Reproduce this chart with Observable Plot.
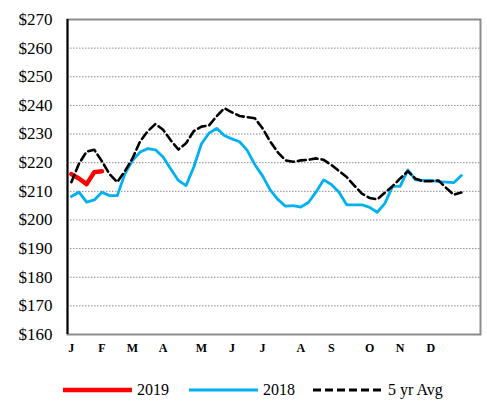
<!DOCTYPE html>
<html><head><meta charset="utf-8">
<script src="https://cdn.jsdelivr.net/npm/d3@7"></script>
<script src="https://cdn.jsdelivr.net/npm/@observablehq/plot@0.6"></script>
<style>
body{margin:0;background:#fff;font-family:"Liberation Serif","Times New Roman",serif}
#wrap{position:relative;width:487px;height:403px}
#chart svg, #chart svg text{font-family:"Liberation Serif","Times New Roman",serif !important}
#legend{position:absolute;left:0;top:378px;width:487px;height:24px}
.item{position:absolute;top:0;height:24px;display:flex;align-items:center;font-size:16px;color:#000;font-family:"Liberation Serif","Times New Roman",serif}
</style>
</head><body><div id="wrap"><div id="chart"></div><div id="legend"></div></div>
<script>
// Weekly values (week 1..52)
const y2019 = [216.0, 214.5, 212.5, 216.7, 217.0];
const y2018 = [208.2, 209.7, 206.2, 207.0, 209.7, 208.5, 208.5, 216.0, 220.8, 223.7,
  224.9, 224.5, 222.0, 217.8, 213.8, 212.0, 218.4, 226.5, 230.3, 232.0,
  229.5, 228.3, 227.3, 224.3, 219.3, 215.4, 210.5, 207.2, 204.8, 205.0,
  204.5, 206.1, 209.8, 214.0, 212.4, 209.7, 205.3, 205.3, 205.3, 204.4,
  202.7, 205.8, 211.7, 211.7, 217.5, 214.0, 213.8, 213.8, 213.4, 213.2,
  213.0, 215.5];
const yAvg = [213.2, 219.6, 223.9, 224.5, 220.5, 216.0, 213.2, 217.0, 221.5, 227.5,
  231.0, 233.5, 231.5, 227.8, 224.6, 226.8, 231.0, 232.6, 233.0, 236.2,
  239.0, 237.6, 236.3, 235.9, 235.5, 232.0, 227.4, 223.6, 220.8, 220.3,
  220.8, 221.0, 221.5, 221.0, 219.2, 217.1, 215.0, 212.0, 209.2, 207.7,
  207.2, 209.5, 211.8, 214.5, 217.0, 214.4, 213.5, 213.5, 213.8, 211.2,
  208.8, 209.6];
const monthLabels = ["J","F","M","A","M","J","J","A","S","O","N","D"];
const monthWeeks = [1, 5, 9, 13, 18, 22, 26, 31, 35, 40, 44, 48];
const yTicks = d3.range(160, 271, 10);

const seriesNames = ["2019", "2018", "5 yr Avg"];
const seriesColors = ["#FF0000", "#00B0F0", "#000000"];
const seriesWidths = [4.5, 2.8, 2.6];
const seriesDash = [null, null, "8,4"];
const seriesData = [y2019, y2018, yAvg];

const chart = Plot.plot({
  width: 487,
  height: 365,
  marginTop: 19,
  marginBottom: 31,
  marginLeft: 67,
  marginRight: 7,
  style: {background: "white", color: "black"},
  x: {domain: [0.5, 54.5]},
  y: {domain: [160, 270]},
  marks: [
    Plot.gridY(yTicks.filter(d => d > 160 && d < 270), {stroke: "#8c8c8c", strokeOpacity: 1, strokeWidth: 1, strokeDasharray: "1.5,1.5"}),
    Plot.frame({stroke: "#8c8c8c", strokeWidth: 2}),
    Plot.ruleX([0.5], {stroke: "#000", strokeWidth: 2}),
    Plot.axisY(yTicks, {tickSize: 0, tickPadding: 15, tickFormat: d => "$" + d, fontSize: 17, label: null}),
    Plot.axisX(monthWeeks, {tickSize: 0, tickPadding: 9, tickFormat: d => monthLabels[monthWeeks.indexOf(d)], fontSize: 12, fontWeight: "bold", label: null}),
    ...seriesData.map((arr, k) => Plot.line(arr, {
      x: (d, i) => i + 1,
      y: d => d,
      stroke: seriesColors[k],
      strokeWidth: seriesWidths[k],
      strokeDasharray: seriesDash[k] || undefined,
      strokeLinejoin: "round"
    }))
  ]
});
document.getElementById("chart").appendChild(chart);

// Legend
const legendPos = [[63, 137], [189, 263], [313, 388]];
const legend = document.getElementById("legend");
seriesNames.forEach((name, k) => {
  const sw = document.createElement("div");
  sw.className = "item";
  sw.style.left = legendPos[k][0] + "px";
  sw.innerHTML = `<svg width="69" height="24"><line x1="0" x2="69" y1="12" y2="12" stroke="${seriesColors[k]}" stroke-width="${k === 0 ? 4.5 : 3}" ${seriesDash[k] ? `stroke-dasharray="${seriesDash[k]}"` : ""}/></svg>`;
  legend.appendChild(sw);
  const tx = document.createElement("div");
  tx.className = "item";
  tx.style.left = legendPos[k][1] + "px";
  tx.textContent = name;
  legend.appendChild(tx);
});
</script>
</body></html>
